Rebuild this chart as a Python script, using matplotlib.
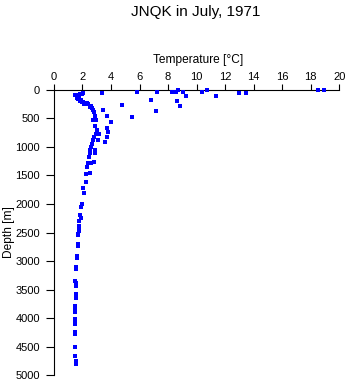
import matplotlib
matplotlib.use("Agg")
import matplotlib.pyplot as plt

plt.rcParams['font.family'] = ['Liberation Sans', 'DejaVu Sans']

# Temperatura (°C) y profundidad (m) leídas del gráfico
# puntos cálidos cerca de la superficie
temp_sup = [18.48, 18.92, 8.72, 10.7, 5.85, 7.25, 8.28, 8.54, 9.07, 10.4,
            13.0, 13.43, 9.29, 11.39, 3.39, 4.77, 6.83, 7.13, 8.59, 8.87,
            5.5, 4.0]
prof_sup = [5, 5, 5, 5, 40, 30, 40, 30, 30, 30,
            58, 58, 105, 105, 58, 270, 180, 375, 200, 290,
            475, 560]

# perfil hasta ~1100 m
temp_med = [2.06, 1.94, 1.54, 1.47, 1.71, 1.82, 1.59, 1.59, 1.71, 1.78,
            1.82, 1.87, 1.96, 2.01, 2.1, 2.13, 2.34, 2.41, 2.57, 2.53,
            2.67, 2.76, 2.81, 3.41, 3.7, 2.88, 2.95, 2.71, 2.88, 2.99,
            3.74, 3.81, 3.74, 3.16, 2.92, 2.83, 2.71, 3.11, 3.58, 2.64,
            2.57, 2.53, 2.53, 2.88, 2.9]
prof_med = [47, 75, 88, 95, 88, 70, 117, 135, 158, 146,
            188, 175, 205, 215, 233, 246, 228, 246, 280, 292,
            322, 357, 392, 357, 450, 450, 526, 520, 626, 700,
            660, 743, 818, 778, 778, 818, 877, 877, 918, 953,
            994, 1053, 1100, 1053, 1100]

# perfil profundo
temp_prof = [2.43, 2.39, 2.62, 2.83, 2.29, 2.27, 2.55, 2.22, 2.06, 2.1,
             1.96, 1.89, 1.82, 1.87, 1.78, 1.75, 1.75, 1.78, 1.71, 1.71,
             1.68, 1.68, 1.64, 1.64, 1.56, 1.56, 1.5, 1.52, 1.52, 1.52,
             1.52, 1.52, 1.5, 1.5, 1.5, 1.5, 1.5, 1.5, 1.5, 1.5,
             1.5, 1.5, 1.5, 1.5, 1.52, 1.52]
prof_prof = [1180, 1275, 1286, 1268, 1356, 1474, 1450, 1608, 1725, 1813,
             2006, 2058, 2193, 2251, 2298, 2386, 2420, 2474, 2520, 2544,
             2700, 2731, 2920, 2953, 3110, 3140, 3350, 3392, 3440, 3570,
             3608, 3650, 3780, 3813, 3850, 3889, 4020, 4058, 4105, 4250,
             4281, 4500, 4514, 4667, 4760, 4796]

temp = temp_sup + temp_med + temp_prof
depth = prof_sup + prof_med + prof_prof

xticks = list(range(0, 21, 2))
yticks = list(range(0, 5001, 500))

fig = plt.figure(figsize=(3.48, 3.84), dpi=100)
ax = fig.add_axes([0.155, 0.023, 0.82, 0.743])

ax.plot(temp, depth, linestyle='none', marker='s', markersize=2.5,
        color='#0000ff', markeredgewidth=0, zorder=3, clip_on=False)

ax.set_xlim(0, 20)
ax.set_ylim(5000, 0)
ax.set_xticks(xticks)
ax.set_yticks(yticks)
ax.xaxis.tick_top()
ax.spines['right'].set_visible(False)
ax.spines['bottom'].set_visible(False)
ax.tick_params(axis='x', direction='out', length=4, labelsize=8, pad=2)
ax.tick_params(axis='y', direction='out', length=6, labelsize=8, pad=4)

fig.text(0.562, 1 - 12 / 384, "JNQK in July, 1971", ha='center', va='center', fontsize=11)
fig.text(0.568, 1 - 60 / 384, "Temperature [\u00b0C]", ha='center', va='center', fontsize=8.6)
fig.text(0.025, 0.395, "Depth [m]", ha='center', va='center', rotation=90, fontsize=8.6)

fig.savefig("out.png", dpi=100)
